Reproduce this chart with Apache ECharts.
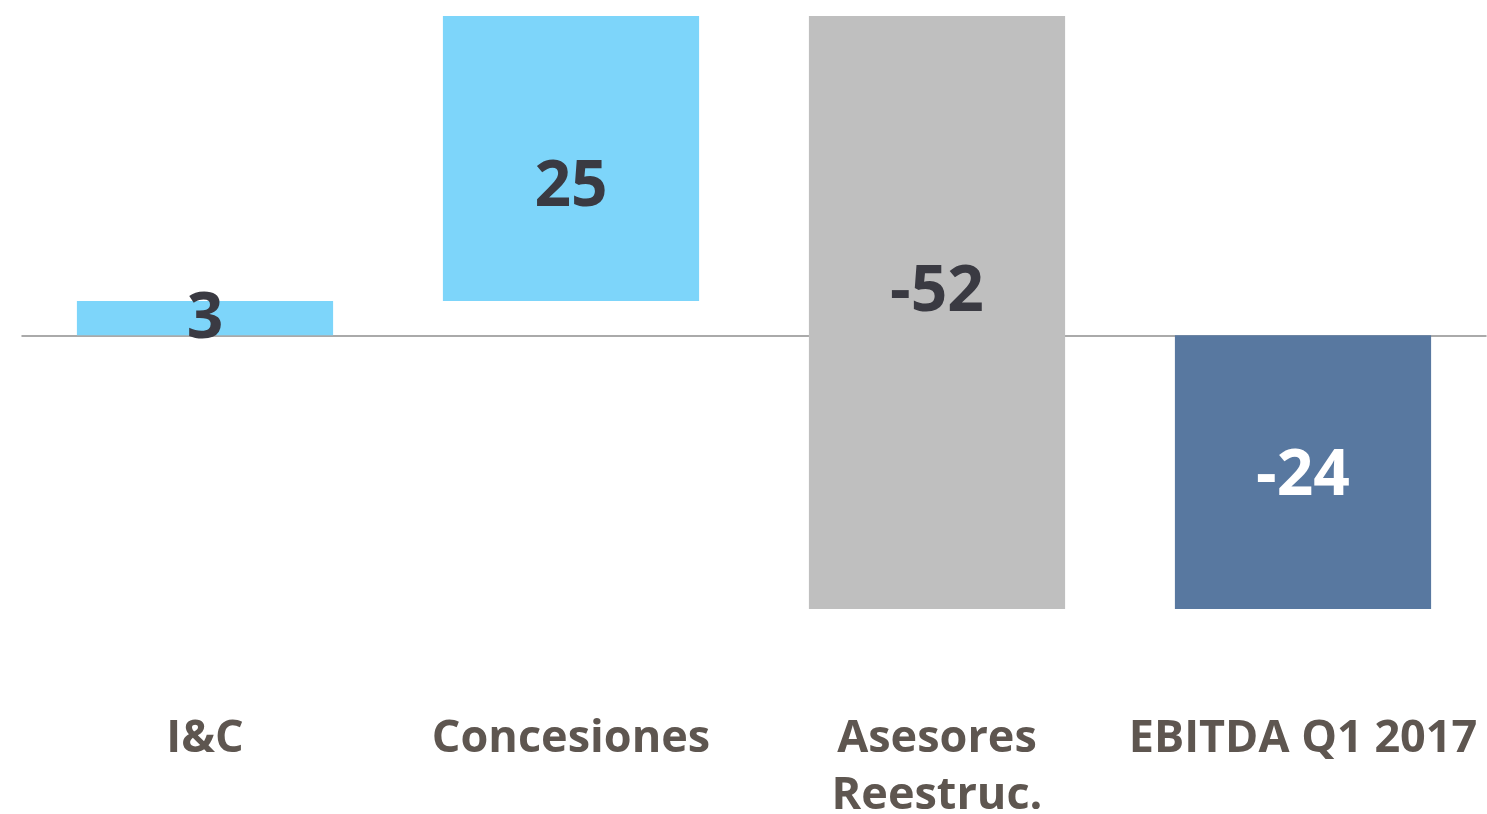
<!DOCTYPE html>
<html><head><meta charset="utf-8">
<script src="https://cdn.jsdelivr.net/npm/echarts@6/dist/echarts.min.js"></script>
<style>html,body{margin:0;padding:0;background:#fff}#c{width:1487px;height:814px}</style>
</head><body><div id="c"></div>
<script>
const categories = ['I&C', 'Concesiones', 'Asesores\nReestruc.', 'EBITDA Q1 2017'];
const values = [3, 25, -52, -24];
const isTotal = [false, false, false, true];
const labels = ['3', '25', '-52', '-24'];

const barColors = ['#7dd5fa', '#7dd5fa', '#bfbfbf', '#5878a0'];
const labelColors = ['#3a3a42', '#3a3a42', '#3a3a42', '#ffffff'];
const labelShift = [2, 29, -20, 5];

// build waterfall ranges
let run = 0;
const wfData = values.map((v, i) => {
  let s, e;
  if (isTotal[i]) { s = 0; e = v; run = v; }
  else { s = run; e = run + v; run = e; }
  return [i, s, e];
});

const chart = echarts.init(document.getElementById('c'), null, {renderer: 'canvas'});
chart.setOption({
  animation: false,
  grid: {left: 22, right: 1, top: 16, bottom: 205, containLabel: false, outerBoundsMode: 'none'},
  xAxis: [
    {type: 'category', data: categories, axisLine: {onZero: true, lineStyle: {color: '#8f8f8f', width: 1.5}},
     axisTick: {show: false}, axisLabel: {show: false}},
    {type: 'category', data: categories, position: 'bottom', axisLine: {show: false, onZero: false},
     axisTick: {show: false},
     axisLabel: {margin: 102, fontFamily: 'Open Sans', fontWeight: 'bold', fontSize: 45, lineHeight: 57, color: '#5e5650', interval: 0}}
  ],
  yAxis: {type: 'value', min: -24, max: 28, show: false, splitLine: {show: false}},
  series: [{
    type: 'custom',
    xAxisIndex: 0,
    data: wfData,
    z: 1,
    renderItem: function (params, api) {
      const i = api.value(0);
      const p1 = api.coord([i, api.value(1)]);
      const p2 = api.coord([i, api.value(2)]);
      const w = api.size([1, 0])[0] * 0.7;
      const top = Math.min(p1[1], p2[1]);
      const h = Math.abs(p1[1] - p2[1]);
      return {
        type: 'group',
        children: [
          {type: 'rect', shape: {x: p1[0] - w / 2, y: top, width: w, height: h},
           style: {fill: barColors[i]}},
          {type: 'text', z2: 10, style: {text: labels[i], x: p1[0], y: top + h / 2 + labelShift[i],
            align: 'center', verticalAlign: 'middle', fill: labelColors[i],
            font: 'bold 64px "Open Sans"'}}
        ]
      };
    }
  }]
});
</script>
</body></html>
